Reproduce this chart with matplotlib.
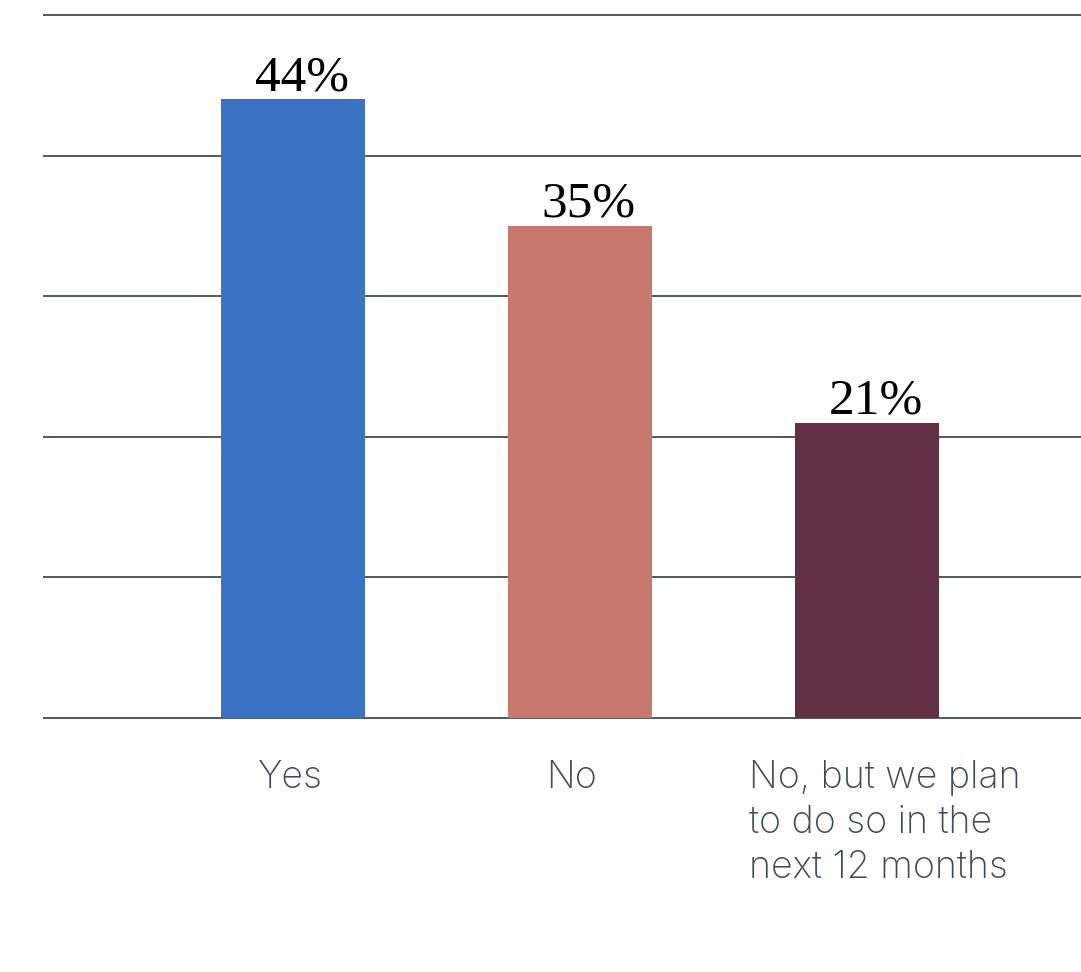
import matplotlib.pyplot as plt

# Survey answers and shares (%)
categories = ['Yes', 'No', 'No, but we plan\nto do so in the\nnext 12 months']
values = [44, 35, 21]
bar_colors = ['#3a72c4', '#c8786e', '#622f46']
gridlines = [0, 10, 20, 30, 40, 50]

fig = plt.figure(figsize=(10.81, 9.72), dpi=100)
ax = fig.add_axes([43 / 1081, 254 / 972, 1038 / 1081, 703 / 972])

x = list(range(len(categories)))
ax.bar(x, values, width=0.502, color=bar_colors, zorder=3)

# horizontal rules
ax.hlines(gridlines, -0.871, 2.746, colors='#3f4f4a', linewidth=1.3,
          clip_on=False, zorder=1)

ax.set_xlim(-0.871, 2.746)
ax.set_ylim(0, 50)
ax.axis('off')

# value labels above bars
for xi, v in zip(x, values):
    ax.text(xi + 0.03, v + 0.65, f'{v}%', ha='center', va='baseline',
            fontsize=37, family='Liberation Serif', color='black')

# category labels under the axis
label_color = '#3d4b58'
offsets = [(-0.01, 'center'), (-0.03, 'center'), (-0.41, 'left')]
for xi, lab, (dx, ha) in zip(x, categories, offsets):
    ax.text(xi + dx, -0.06, lab, transform=ax.get_xaxis_transform(),
            ha=ha, va='top', fontsize=27, family='Inter', weight='light',
            color=label_color, linespacing=1.31, multialignment='left')

fig.savefig('out.png', dpi=100)
